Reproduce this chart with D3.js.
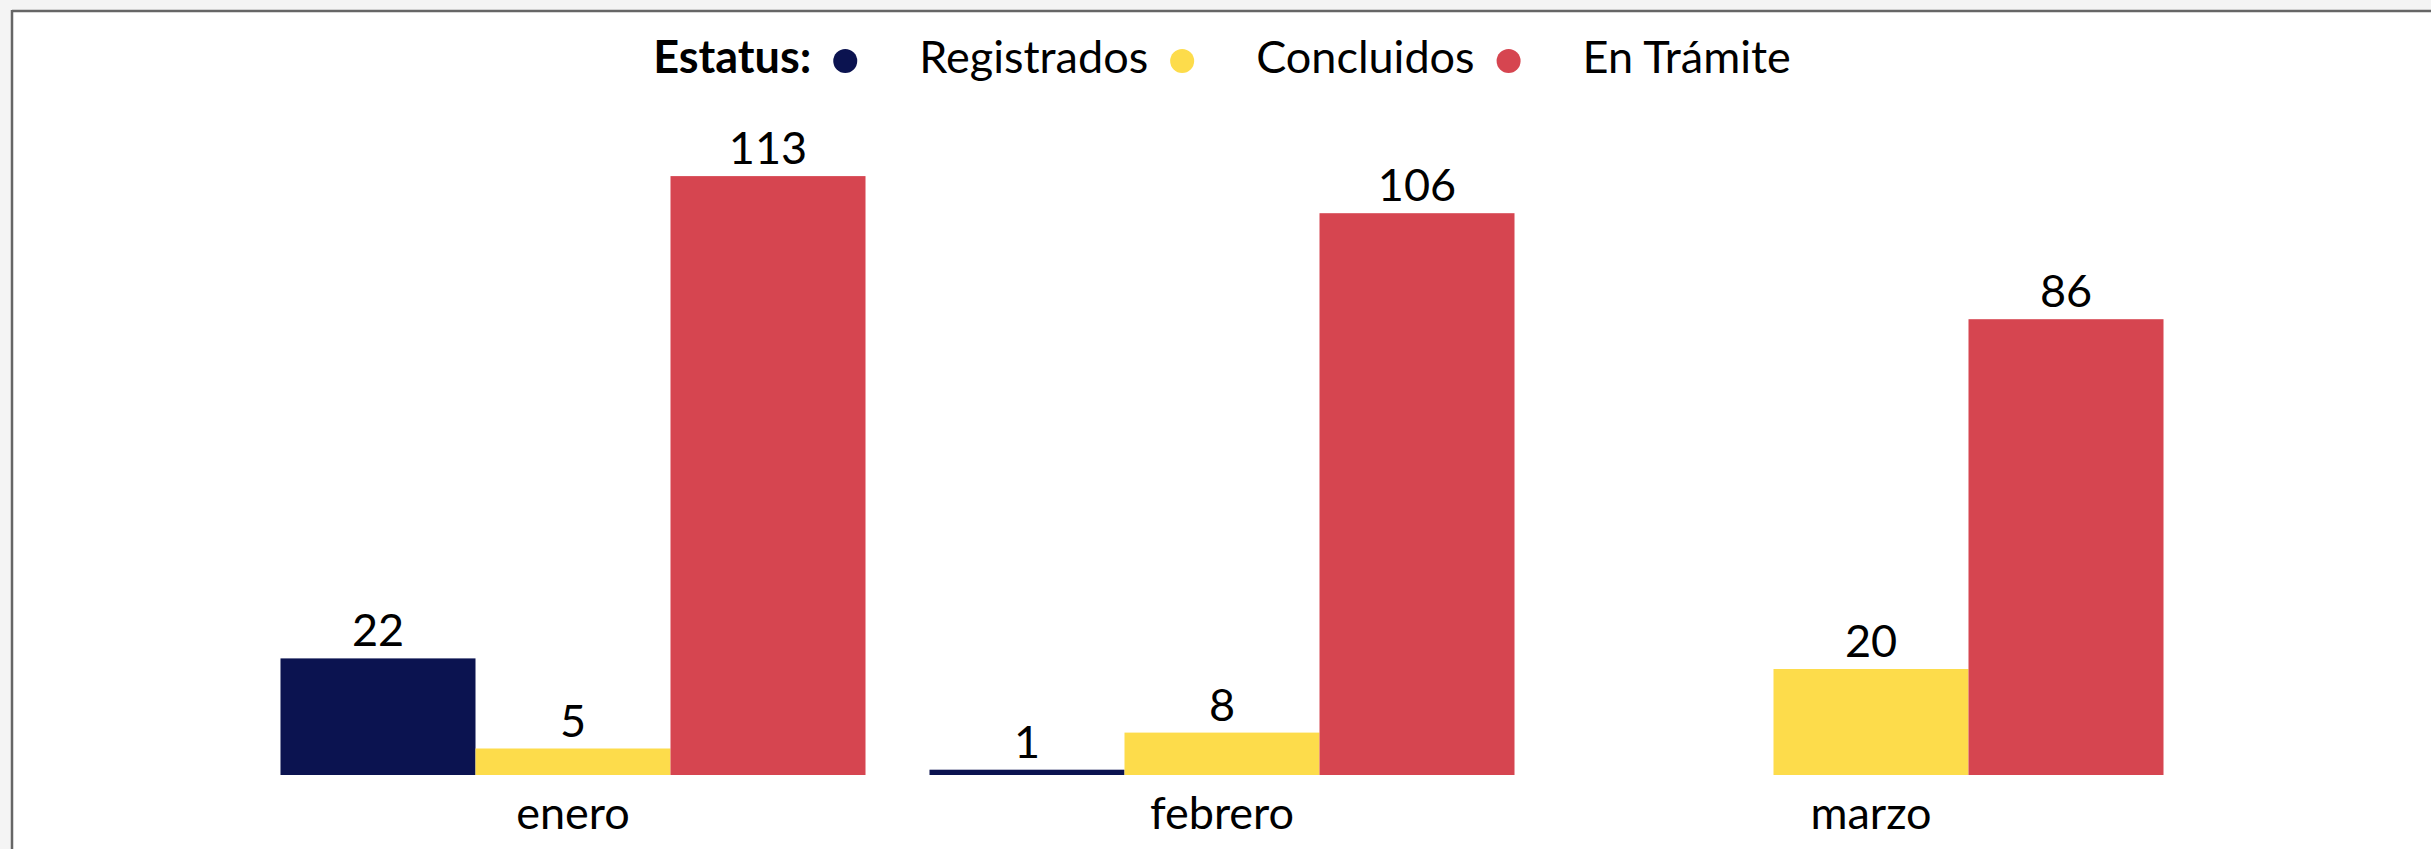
<!DOCTYPE html>
<html>
<head>
<meta charset="utf-8">
<script src="https://cdn.jsdelivr.net/npm/d3@7/dist/d3.min.js"></script>
<style>
  html, body { margin: 0; padding: 0; background: #f4f4f4; }
  svg { display: block; }
  text { font-family: Lato, "Open Sans", sans-serif; fill: #000; }
</style>
</head>
<body>
<svg id="chart" width="2431" height="849"></svg>
<script>
// Monthly case counts by status
const categories = ["enero", "febrero", "marzo"];
const registrados = [22, 1, 0];
const concluidos = [5, 8, 20];
const enTramite = [113, 106, 86];

const seriesNames = ["Registrados", "Concluidos", "En Trámite"];
const seriesColors = ["#0b1350", "#fddc4b", "#d64550"];
const legendTitle = "Estatus:";

const seriesValues = [registrados, concluidos, enTramite];
const rows = categories.map((c, i) => ({
  month: c,
  values: seriesNames.map((s, k) => ({ key: s, value: seriesValues[k][i] }))
}));

const W = 2431, H = 849;
const fontSize = 45;
const svg = d3.select("#chart");

// panel with a grey frame on its top and left edges
svg.append("rect").attr("x", 0).attr("y", 0).attr("width", W).attr("height", H).attr("fill", "#f4f4f4");
svg.append("rect").attr("x", 12).attr("y", 11).attr("width", W - 12).attr("height", H - 11).attr("fill", "#ffffff");
svg.append("line").attr("x1", 12).attr("y1", 11).attr("x2", W).attr("y2", 11)
  .attr("stroke", "#666").attr("stroke-width", 2.5);
svg.append("line").attr("x1", 12).attr("y1", 10).attr("x2", 12).attr("y2", H)
  .attr("stroke", "#666").attr("stroke-width", 2.5);

const baseY = 775;
const x0 = d3.scaleBand().domain(categories).range([248.5, 2195.5])
  .paddingInner(0.0986).paddingOuter(0.0493);
const x1 = d3.scaleBand().domain(seriesNames).range([0, x0.bandwidth()]).padding(0);
const y = d3.scaleLinear().domain([0, 120]).range([baseY, baseY - 636]);
const color = d3.scaleOrdinal().domain(seriesNames).range(seriesColors);

const groups = svg.append("g").selectAll("g").data(rows).join("g")
  .attr("transform", d => `translate(${x0(d.month)},0)`);

groups.selectAll("rect").data(d => d.values).join("rect")
  .attr("x", d => x1(d.key))
  .attr("width", x1.bandwidth())
  .attr("y", d => y(d.value))
  .attr("height", d => y(0) - y(d.value))
  .attr("fill", d => color(d.key));

groups.selectAll("text.val").data(d => d.values.filter(v => v.value > 0)).join("text")
  .attr("class", "val")
  .attr("x", d => x1(d.key) + x1.bandwidth() / 2)
  .attr("y", d => y(d.value) - 12)
  .attr("text-anchor", "middle")
  .attr("font-size", fontSize)
  .text(d => d.value);

// category axis labels (no axis line or ticks)
const xAxis = d3.axisBottom(x0).tickSize(0).tickPadding(0);
const axisG = svg.append("g").attr("transform", `translate(0,${baseY})`).call(xAxis);
axisG.select(".domain").remove();
axisG.selectAll("text")
  .attr("font-size", fontSize)
  .attr("font-family", "Lato, 'Open Sans', sans-serif")
  .attr("fill", "#000")
  .attr("dy", null)
  .attr("y", 54);

// legend, centred over the plot
const legend = svg.append("g");
const legY = 73, dotGap = 34, labelGap = 74, r = 12;
let cx = 0;
const title = legend.append("text").attr("x", cx).attr("y", legY)
  .attr("font-size", fontSize).attr("font-weight", "bold").text(legendTitle);
cx += title.node().getComputedTextLength();
seriesNames.forEach((s, i) => {
  cx += dotGap;
  legend.append("circle").attr("cx", cx).attr("cy", legY - 12).attr("r", r).attr("fill", color(s));
  cx += labelGap;
  const t = legend.append("text").attr("x", cx).attr("y", legY).attr("font-size", fontSize).text(s);
  cx += t.node().getComputedTextLength();
});
const center = (x0.range()[0] + x0.range()[1]) / 2;
legend.attr("transform", `translate(${center - cx / 2},0)`);
</script>
</body>
</html>
